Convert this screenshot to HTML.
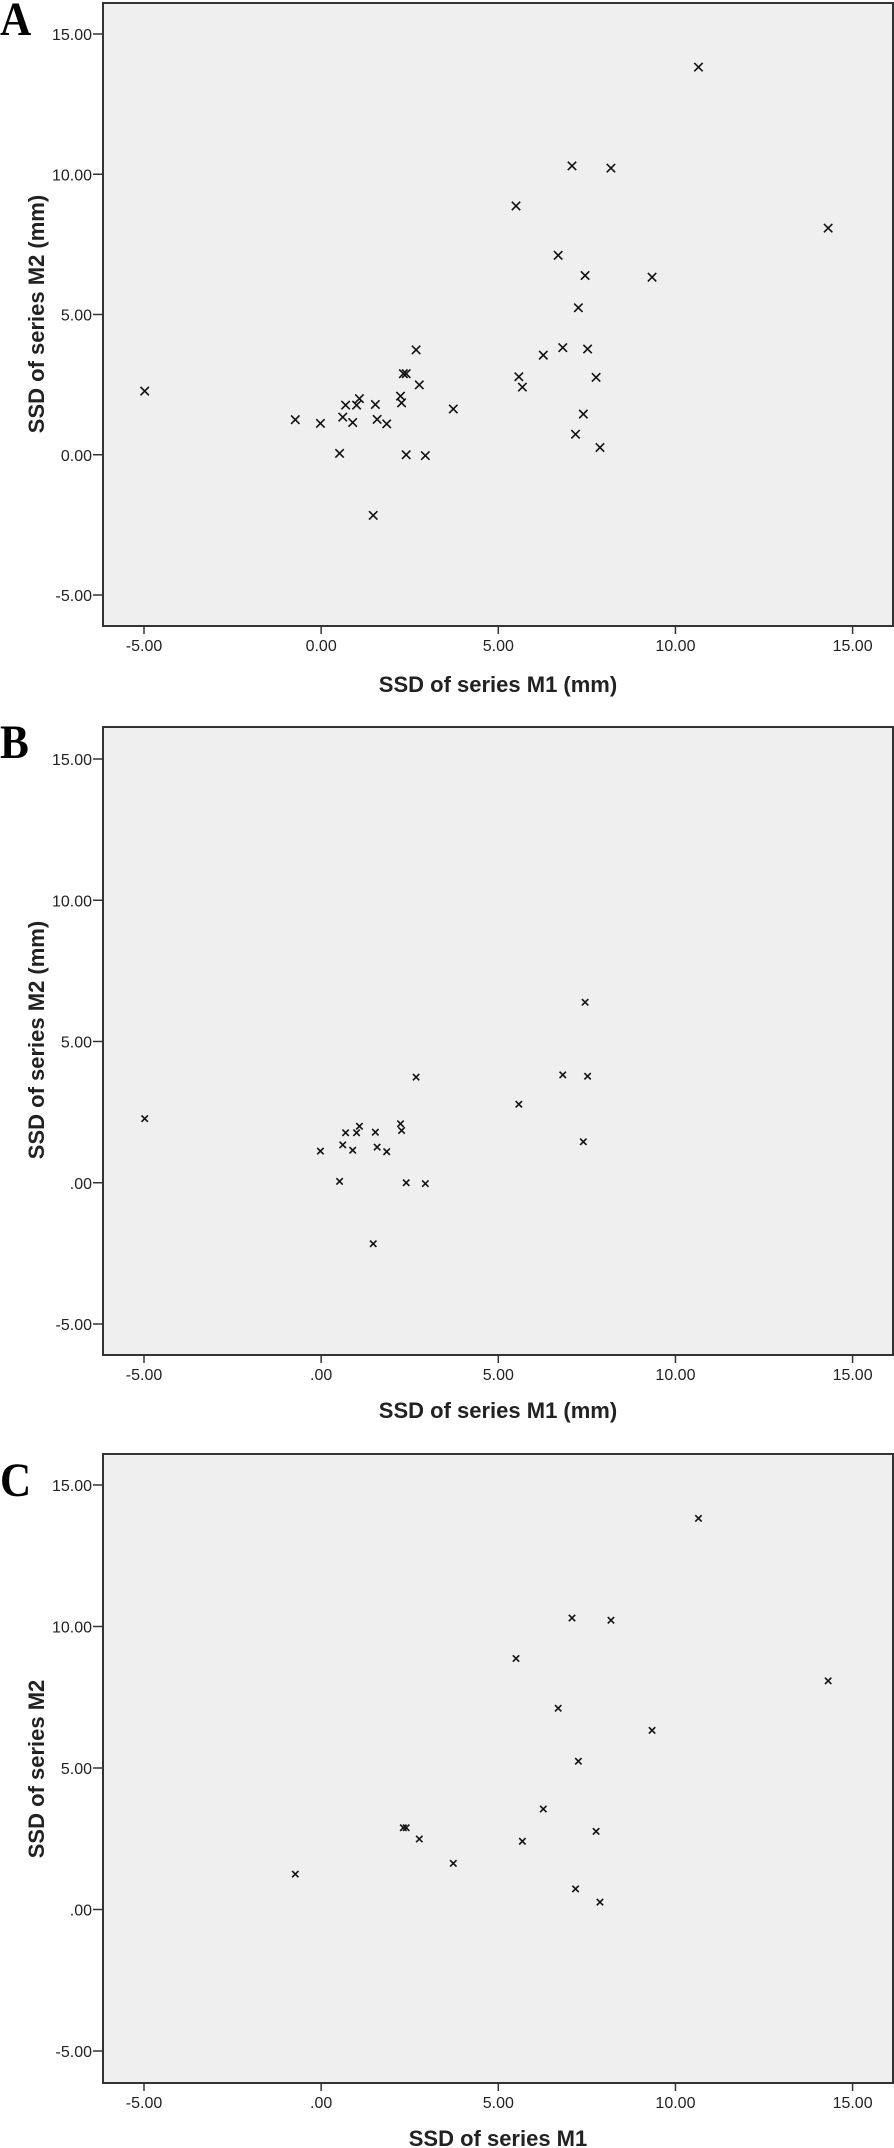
<!DOCTYPE html>
<html><head><meta charset="utf-8"><style>
html,body{margin:0;padding:0;background:#fff;width:894px;height:2148px;overflow:hidden}
svg{display:block}
</style></head><body>
<svg id="chart" width="894" height="2148" xmlns="http://www.w3.org/2000/svg"></svg>
<script>
// Panel A data (all points)
const aX = [-4.98,10.65,7.08,8.18,5.50,14.31,6.69,7.45,9.34,7.26,2.68,6.82,7.52,6.27,2.32,2.40,5.58,7.76,2.77,5.68,2.24,2.27,1.08,0.69,1.00,1.53,3.73,-0.73,0.61,0.89,1.58,1.85,-0.02,7.40,7.18,7.87,0.52,2.40,2.94,1.47];
const aY = [2.27,13.82,10.30,10.22,8.87,8.08,7.11,6.39,6.33,5.24,3.74,3.82,3.77,3.55,2.89,2.89,2.78,2.76,2.49,2.41,2.09,1.85,2.00,1.77,1.77,1.79,1.63,1.25,1.34,1.15,1.26,1.10,1.12,1.45,0.73,0.26,0.05,0.00,-0.03,-2.16];
// Panel B data
const bX = [-4.98,7.45,2.68,6.82,7.52,5.58,2.24,2.27,1.08,0.69,1.00,1.53,0.61,0.89,1.58,1.85,-0.02,7.40,0.52,2.40,2.94,1.47];
const bY = [2.27,6.39,3.74,3.82,3.77,2.78,2.09,1.85,2.00,1.77,1.77,1.79,1.34,1.15,1.26,1.10,1.12,1.45,0.05,0.00,-0.03,-2.16];
// Panel C data
const cX = [10.65,7.08,8.18,5.50,14.31,6.69,9.34,7.26,6.27,2.32,2.40,7.76,2.77,5.68,3.73,-0.73,7.18,7.87];
const cY = [13.82,10.30,10.22,8.87,8.08,7.11,6.33,5.24,3.55,2.89,2.89,2.76,2.49,2.41,1.63,1.25,0.73,0.26];
const tickVals = [-5,0,5,10,15];
const tickLabelsA = ["-5.00","0.00","5.00","10.00","15.00"];
const tickLabelsBC = ["-5.00",".00","5.00","10.00","15.00"];

const NS = "http://www.w3.org/2000/svg";
const svg = document.getElementById('chart');
function mk(tag, attrs, parent){const e=document.createElementNS(NS,tag);for(const k in attrs)e.setAttribute(k,attrs[k]);(parent||svg).appendChild(e);return e;}

const panels = [
 {id:'a',letter:'A',xs:aX,ys:aY,labels:tickLabelsA,top:3,bot:626,y15:34,ym5:595,xt:'SSD of series M1 (mm)',yt:'SSD of series M2 (mm)',ms:4.2,tickBase:651,titleBase:692,ytc:314,letBase:35},
 {id:'b',letter:'B',xs:bX,ys:bY,labels:tickLabelsBC,top:727,bot:1355,y15:759,ym5:1324,xt:'SSD of series M1 (mm)',yt:'SSD of series M2 (mm)',ms:3.2,tickBase:1380,titleBase:1418,ytc:1040,letBase:758},
 {id:'c',letter:'C',xs:cX,ys:cY,labels:tickLabelsBC,top:1454,bot:2083,y15:1485,ym5:2051,xt:'SSD of series M1',yt:'SSD of series M2',ms:3.2,tickBase:2108,titleBase:2146,ytc:1769,letBase:1496}
];
const L=103,R=893,XM5=144,X15=852.6;
function sx(v){return XM5+(v+5)*(X15-XM5)/20;}

panels.forEach(p=>{
  const g=mk('g',{});
  
  
  function sy(v){return p.ym5+(v+5)*(p.y15-p.ym5)/20;}
  const bg=mk('rect',{x:L,y:p.top,width:R-L,height:p.bot-p.top,fill:'#efefef',stroke:'#333',"stroke-width":2},g);
  
  
  const let_=mk('text',{transform:`translate(0,${p.letBase}) scale(0.9,1)`,"font-family":'"Liberation Serif",serif',"font-weight":'bold',"font-size":48,fill:'#000'},g);
  let_.textContent=p.letter;
  
  
  tickVals.forEach((v,i)=>{
    const y=sy(v);
    mk('line',{x1:L-10,x2:L,y1:y,y2:y,stroke:'#333',"stroke-width":1.5},g);
    const t=mk('text',{x:92,y:y+6,"text-anchor":'end',"font-family":'"Liberation Sans",sans-serif',"font-size":16,fill:'#222'},g);
    t.textContent=p.labels[i];
    
    
    const x=sx(v);
    mk('line',{x1:x,x2:x,y1:p.bot,y2:p.bot+8,stroke:'#333',"stroke-width":1.5},g);
    const tx=mk('text',{x:x,y:p.tickBase,"text-anchor":'middle',"font-family":'"Liberation Sans",sans-serif',"font-size":16,fill:'#222'},g);
    tx.textContent=p.labels[i];
    
    
  });
  const xt=mk('text',{x:498,y:p.titleBase,"text-anchor":'middle',"font-family":'"Liberation Sans",sans-serif',"font-weight":'bold',"font-size":22,fill:'#222'},g);
  xt.textContent=p.xt;
  
  
  const yt=mk('text',{transform:`translate(44,${p.ytc}) rotate(-90)`,"text-anchor":'middle',"font-family":'"Liberation Sans",sans-serif',"font-weight":'bold',"font-size":22,fill:'#222'},g);
  yt.textContent=p.yt;
  
  
  p.xs.forEach((xv,i)=>{
    const cx=sx(xv),cy=sy(p.ys[i]),m=p.ms;
    const pt=mk('path',{d:`M${cx-m},${cy-m}L${cx+m},${cy+m}M${cx-m},${cy+m}L${cx+m},${cy-m}`,stroke:'#111',"stroke-width":1.6,fill:'none'},g);
    
    
  });
});
</script>
</body></html>
